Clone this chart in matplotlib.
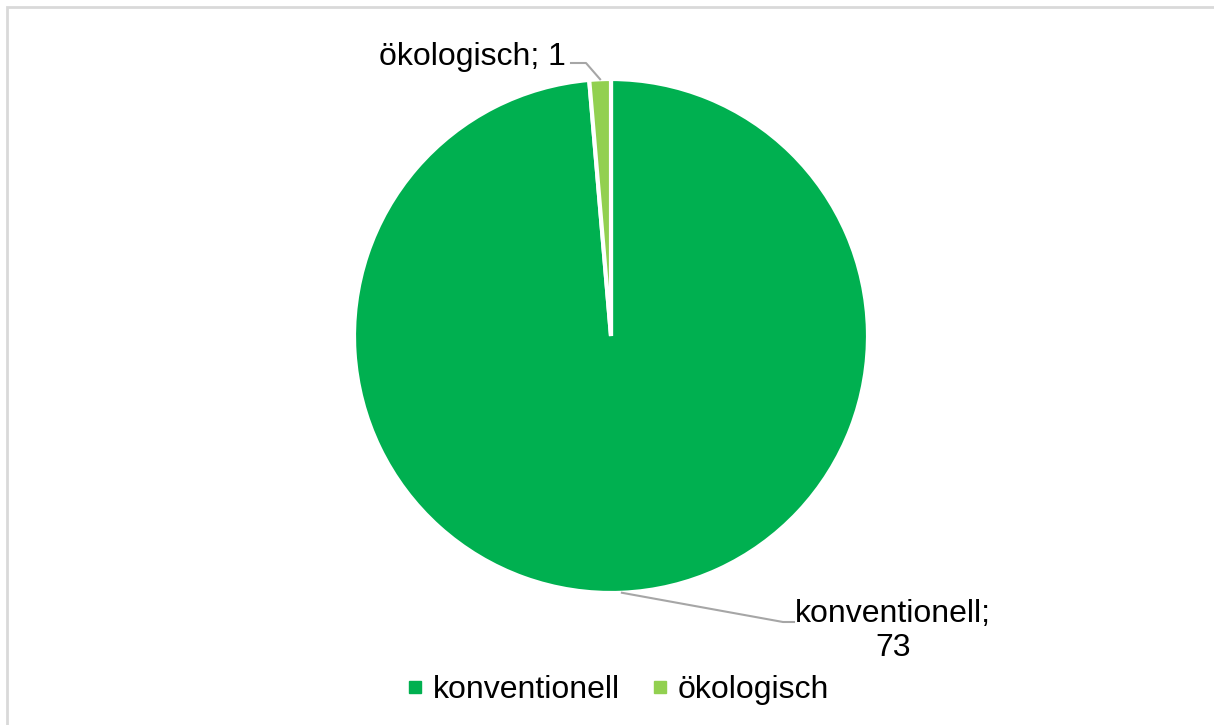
import matplotlib.pyplot as plt
from matplotlib.lines import Line2D
from matplotlib.patches import Rectangle
import numpy as np

plt.rcParams['font.family'] = ['Liberation Sans', 'DejaVu Sans']

categories = ['konventionell', 'ökologisch']
values = [73, 1]
colors = ['#00B050', '#92D050']

W, H = 1214, 725
fig = plt.figure(figsize=(W / 100, H / 100), dpi=100)
ax = fig.add_axes([0, 0, 1, 1])

cx, cy, r = 611, 389, 257
wedges, _ = ax.pie(values, colors=colors, startangle=90, counterclock=False,
                   center=(cx, cy), radius=r, frame=True,
                   wedgeprops=dict(edgecolor='white', linewidth=3))
ax.set_xlim(0, W)
ax.set_ylim(0, H)
ax.set_aspect('equal')
ax.axis('off')

# light grey chart frame
ax.add_patch(Rectangle((6.5, -5), W + 10, H - 6.5 + 5, fill=False,
                       edgecolor='#D9D9D9', linewidth=2))

# data labels with grey leader lines
def edge_point(w):
    mid = np.deg2rad((w.theta1 + w.theta2) / 2)
    return cx + r * np.cos(mid), cy + r * np.sin(mid)

x0, y0 = edge_point(wedges[1])
ax.plot([x0, 586, 571], [y0, H - 63, H - 63], color='#A6A6A6', lw=1.5)
ax.text(566, H - 57, f'{categories[1]}; {values[1]}', fontsize=23,
        ha='right', va='center')

x0, y0 = edge_point(wedges[0])
ax.plot([x0, 783, 794], [y0, H - 622, H - 622], color='#A6A6A6', lw=1.5)
ax.text(893, H - 631, f'{categories[0]};\n{values[0]}', fontsize=23,
        ha='center', va='center', linespacing=1.15)

handles = [Line2D([], [], marker='s', linestyle='none', markersize=8,
                  markerfacecolor=c, markeredgecolor=c) for c in colors]
fig.legend(handles, categories, loc='center', bbox_to_anchor=(0.509, 1 - 690 / H),
           ncol=2, frameon=False, fontsize=23, handlelength=0.5,
           handletextpad=0.3, columnspacing=1.0)

fig.savefig('out.png', dpi=100)
